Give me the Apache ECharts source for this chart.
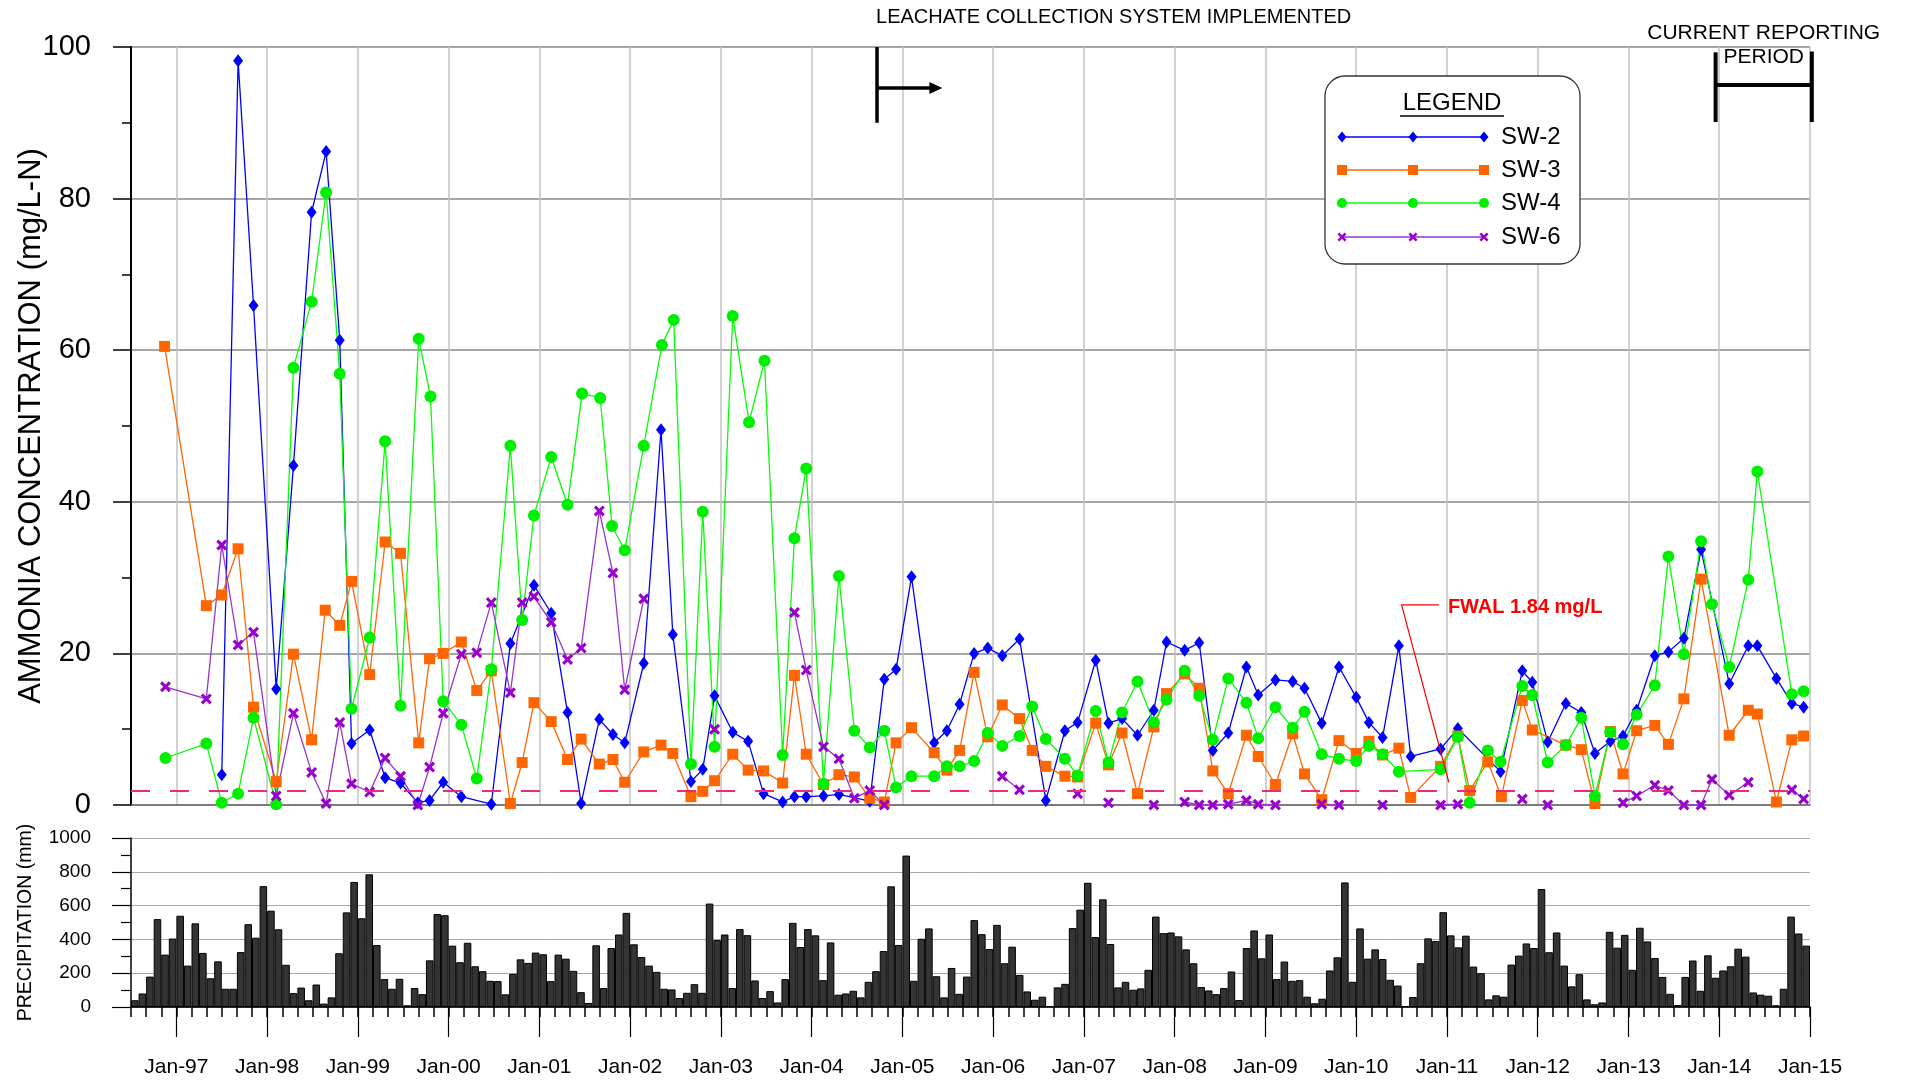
<!DOCTYPE html>
<html>
<head>
<meta charset="utf-8">
<script src="https://cdn.jsdelivr.net/npm/echarts@6/dist/echarts.min.js"></script>
<style>
  html, body { margin: 0; padding: 0; background: #fff; }
  #chart { width: 1905px; height: 1081px; }
</style>
</head>
<body>
<div id="chart"></div>
<script>
const FONT = '"Liberation Sans", Arial, sans-serif';

// ammonia samples: [decimal year, mg/L-N]
const sw2 = [
  [1997.50, 4.0], [1997.68, 98.2], [1997.85, 65.9], [1998.10, 15.3], [1998.29, 44.8], [1998.49, 78.2],
  [1998.65, 86.2], [1998.80, 61.3], [1998.93, 8.1], [1999.13, 9.9], [1999.30, 3.6], [1999.47, 2.9],
  [1999.66, 0.3], [1999.79, 0.6], [1999.94, 3.0], [2000.14, 1.1], [2000.47, 0.1], [2000.68, 21.3],
  [2000.94, 29.0], [2001.13, 25.3], [2001.31, 12.2], [2001.46, 0.2], [2001.66, 11.3], [2001.81, 9.3],
  [2001.94, 8.2], [2002.15, 18.7], [2002.34, 49.5], [2002.47, 22.5], [2002.67, 3.1], [2002.80, 4.7],
  [2002.93, 14.4], [2003.13, 9.6], [2003.30, 8.4], [2003.47, 1.5], [2003.68, 0.4], [2003.81, 1.1],
  [2003.94, 1.1], [2004.13, 1.2], [2004.30, 1.4], [2004.64, 0.5], [2004.80, 16.6], [2004.93, 17.9],
  [2005.10, 30.1], [2005.35, 8.2], [2005.49, 9.8], [2005.63, 13.3], [2005.79, 20.0], [2005.94, 20.7],
  [2006.10, 19.7], [2006.29, 21.9], [2006.58, 0.6], [2006.79, 9.8], [2006.93, 10.9], [2007.13, 19.1],
  [2007.27, 10.8], [2007.42, 11.4], [2007.59, 9.2], [2007.77, 12.5], [2007.91, 21.5], [2008.11, 20.4],
  [2008.27, 21.4], [2008.42, 7.2], [2008.59, 9.5], [2008.79, 18.2], [2008.92, 14.5], [2009.11, 16.5],
  [2009.30, 16.3], [2009.43, 15.4], [2009.62, 10.8], [2009.81, 18.2], [2010.00, 14.2], [2010.14, 10.9],
  [2010.29, 8.9], [2010.47, 21.0], [2010.60, 6.4], [2010.93, 7.4], [2011.12, 10.1], [2011.59, 4.4],
  [2011.83, 17.7], [2011.94, 16.2], [2012.11, 8.3], [2012.31, 13.4], [2012.48, 12.2], [2012.63, 6.8],
  [2012.80, 8.4], [2012.94, 9.1], [2013.09, 12.5], [2013.29, 19.7], [2013.44, 20.2], [2013.61, 22.0],
  [2013.80, 33.7], [2014.11, 16.0], [2014.32, 21.0], [2014.42, 21.0], [2014.63, 16.7], [2014.80, 13.4],
  [2014.93, 12.9]
];
const sw3 = [
  [1996.87, 60.5], [1997.33, 26.3], [1997.50, 27.7], [1997.68, 33.8], [1997.85, 12.9], [1998.10, 3.1],
  [1998.29, 19.9], [1998.49, 8.6], [1998.64, 25.7], [1998.80, 23.7], [1998.93, 29.5], [1999.13, 17.2],
  [1999.30, 34.7], [1999.47, 33.2], [1999.67, 8.2], [1999.79, 19.3], [1999.94, 20.0], [2000.14, 21.5],
  [2000.31, 15.1], [2000.47, 17.7], [2000.68, 0.2], [2000.81, 5.6], [2000.94, 13.5], [2001.13, 11.0],
  [2001.31, 6.0], [2001.46, 8.7], [2001.66, 5.4], [2001.81, 6.0], [2001.94, 3.0], [2002.15, 7.0],
  [2002.34, 7.9], [2002.47, 6.8], [2002.67, 1.1], [2002.80, 1.8], [2002.93, 3.2], [2003.13, 6.7],
  [2003.30, 4.6], [2003.47, 4.5], [2003.68, 2.9], [2003.81, 17.1], [2003.94, 6.7], [2004.13, 2.7],
  [2004.30, 4.0], [2004.47, 3.7], [2004.64, 0.9], [2004.80, 0.4], [2004.93, 8.2], [2005.10, 10.2],
  [2005.35, 6.9], [2005.49, 4.6], [2005.63, 7.2], [2005.79, 17.5], [2005.94, 9.0], [2006.10, 13.2],
  [2006.29, 11.4], [2006.43, 7.2], [2006.58, 5.1], [2006.79, 3.8], [2006.93, 3.7], [2007.13, 10.8],
  [2007.27, 5.3], [2007.42, 9.5], [2007.59, 1.5], [2007.77, 10.3], [2007.91, 14.7], [2008.11, 17.3],
  [2008.27, 15.4], [2008.42, 4.5], [2008.59, 1.5], [2008.79, 9.2], [2008.92, 6.4], [2009.11, 2.7],
  [2009.30, 9.4], [2009.43, 4.1], [2009.62, 0.7], [2009.81, 8.5], [2010.00, 6.8], [2010.14, 8.4],
  [2010.29, 6.6], [2010.47, 7.5], [2010.60, 1.0], [2010.93, 5.1], [2011.12, 9.1], [2011.25, 1.9],
  [2011.45, 5.7], [2011.60, 1.1], [2011.83, 13.8], [2011.94, 9.9], [2012.31, 7.9], [2012.48, 7.3],
  [2012.63, 0.2], [2012.80, 9.7], [2012.94, 4.1], [2013.09, 9.8], [2013.29, 10.5], [2013.44, 8.0],
  [2013.61, 14.0], [2013.80, 29.8], [2014.11, 9.2], [2014.32, 12.5], [2014.42, 12.0], [2014.63, 0.4],
  [2014.80, 8.6], [2014.93, 9.1]
];
const sw4 = [
  [1996.88, 6.2], [1997.33, 8.1], [1997.50, 0.3], [1997.68, 1.5], [1997.85, 11.5], [1998.10, 0.1],
  [1998.29, 57.7], [1998.49, 66.4], [1998.65, 80.8], [1998.80, 56.9], [1998.93, 12.7], [1999.13, 22.1],
  [1999.30, 48.0], [1999.47, 13.1], [1999.67, 61.5], [1999.80, 53.9], [1999.94, 13.7], [2000.14, 10.6],
  [2000.31, 3.5], [2000.47, 17.9], [2000.68, 47.4], [2000.81, 24.4], [2000.94, 38.2], [2001.13, 45.9],
  [2001.31, 39.6], [2001.47, 54.3], [2001.67, 53.7], [2001.80, 36.8], [2001.94, 33.6], [2002.15, 47.4],
  [2002.35, 60.7], [2002.48, 64.0], [2002.67, 5.4], [2002.80, 38.7], [2002.93, 7.7], [2003.13, 64.5],
  [2003.31, 50.5], [2003.48, 58.6], [2003.68, 6.6], [2003.81, 35.2], [2003.94, 44.4], [2004.13, 2.8],
  [2004.30, 30.2], [2004.47, 9.8], [2004.64, 7.6], [2004.80, 9.8], [2004.93, 2.3], [2005.10, 3.8],
  [2005.35, 3.8], [2005.49, 5.1], [2005.63, 5.1], [2005.79, 5.8], [2005.94, 9.5], [2006.10, 7.8],
  [2006.29, 9.1], [2006.43, 13.0], [2006.58, 8.7], [2006.79, 6.1], [2006.93, 3.9], [2007.13, 12.4],
  [2007.27, 5.6], [2007.42, 12.2], [2007.59, 16.3], [2007.77, 10.9], [2007.91, 13.9], [2008.11, 17.7],
  [2008.27, 14.4], [2008.42, 8.6], [2008.59, 16.7], [2008.79, 13.5], [2008.92, 8.8], [2009.11, 12.9],
  [2009.30, 10.2], [2009.43, 12.3], [2009.62, 6.7], [2009.81, 6.1], [2010.00, 5.8], [2010.14, 7.8],
  [2010.29, 6.7], [2010.47, 4.4], [2010.93, 4.7], [2011.12, 9.0], [2011.25, 0.3], [2011.45, 7.2],
  [2011.59, 5.7], [2011.83, 15.7], [2011.94, 14.5], [2012.11, 5.6], [2012.31, 7.9], [2012.48, 11.5],
  [2012.63, 1.2], [2012.80, 9.6], [2012.94, 8.0], [2013.09, 11.9], [2013.29, 15.8], [2013.44, 32.8],
  [2013.61, 19.9], [2013.80, 34.8], [2013.92, 26.5], [2014.11, 18.2], [2014.32, 29.7], [2014.42, 44.0],
  [2014.80, 14.6], [2014.93, 15.0]
];
// null = no line drawn between those samples
const sw6 = [
  [1996.88, 15.6], [1997.33, 14.0], [1997.50, 34.3], [1997.68, 21.1], [1997.85, 22.8], [1998.10, 1.2],
  [1998.29, 12.1], [1998.49, 4.3], [1998.65, 0.2], [1998.80, 10.9], [1998.93, 2.8], [1999.13, 1.7],
  [1999.30, 6.2], [1999.47, 3.8], [1999.66, 0.0], [1999.79, 5.0], [1999.94, 12.1], [2000.14, 19.9],
  [2000.31, 20.1], [2000.47, 26.7], [2000.68, 14.8], [2000.81, 26.7], [2000.94, 27.5], [2001.13, 24.1],
  [2001.31, 19.2], [2001.46, 20.7], [2001.66, 38.8], [2001.81, 30.6], [2001.94, 15.2], [2002.15, 27.2],
  [2002.5, null], [2002.93, 10.0], [2003.4, null], [2003.81, 25.4], [2003.94, 17.8], [2004.13, 7.7], [2004.30, 6.1],
  [2004.47, 0.9], [2004.64, 1.9], [2004.80, 0.0], [2005.5, null], [2006.10, 3.8], [2006.29, 2.0],
  [2006.6, null], [2006.93, 1.5], [2007.1, null], [2007.27, 0.3], [2007.5, null], [2007.77, 0.0],
  [2007.9, null], [2008.11, 0.4], [2008.27, 0.0], [2008.42, 0.0], [2008.59, 0.1], [2008.79, 0.6],
  [2008.92, 0.1], [2009.11, 0.0], [2009.4, null], [2009.62, 0.1], [2009.81, 0.0], [2010.0, null],
  [2010.29, 0.0], [2010.6, null], [2010.93, 0.0], [2011.12, 0.1], [2011.5, null], [2011.83, 0.8],
  [2012.0, null], [2012.11, 0.0], [2012.5, null], [2012.94, 0.3], [2013.09, 1.2], [2013.29, 2.6],
  [2013.44, 1.9], [2013.61, 0.0], [2013.80, 0.0], [2013.92, 3.4], [2014.11, 1.3], [2014.32, 3.0],
  [2014.6, null], [2014.80, 2.0], [2014.93, 0.8]
];

// monthly precipitation (mm); 1996 starts in July
const rain1996 = [40, 80, 180, 520, 310, 405];
const rain1997 = [540, 245, 495, 320, 170, 270, 108, 108, 325, 490, 410, 715];
const rain1998 = [570, 460, 250, 82, 115, 40, 133, 20, 57, 318, 560, 740];
const rain1999 = [525, 785, 367, 165, 108, 167, 10, 112, 76, 276, 550, 543];
const rain2000 = [363, 265, 380, 241, 212, 155, 153, 75, 196, 282, 261, 322];
const rain2001 = [312, 153, 310, 286, 214, 88, 24, 365, 112, 349, 429, 557];
const rain2002 = [371, 296, 245, 208, 108, 104, 53, 84, 135, 84, 612, 396];
const rain2003 = [429, 112, 461, 425, 157, 53, 94, 27, 165, 498, 355, 461];
const rain2004 = [424, 159, 382, 73, 80, 96, 57, 149, 212, 331, 714, 367];
const rain2005 = [896, 155, 404, 465, 182, 57, 231, 78, 180, 514, 431, 343];
const rain2006 = [486, 259, 357, 190, 92, 43, 61, 6, 116, 137, 467, 576];
const rain2007 = [735, 414, 637, 373, 116, 149, 102, 110, 220, 535, 437, 441];
const rain2008 = [418, 341, 259, 118, 98, 76, 112, 210, 41, 349, 453, 288];
const rain2009 = [429, 165, 269, 155, 159, 61, 22, 49, 216, 294, 737, 149];
const rain2010 = [465, 286, 341, 284, 161, 127, 6, 59, 259, 406, 390, 561];
const rain2011 = [424, 353, 422, 239, 200, 45, 69, 61, 251, 304, 376, 349];
const rain2012 = [698, 324, 441, 245, 122, 194, 45, 16, 27, 445, 351, 427];
const rain2013 = [220, 469, 388, 290, 178, 78, 12, 178, 275, 96, 306, 173];
const rain2014 = [216, 241, 345, 298, 86, 73, 67, 10, 108, 535, 435, 363];
const rainYears = [rain1996, rain1997, rain1998, rain1999, rain2000, rain2001, rain2002, rain2003,
  rain2004, rain2005, rain2006, rain2007, rain2008, rain2009, rain2010, rain2011, rain2012, rain2013, rain2014];

const monthNames = ['Jan', 'Feb', 'Mar', 'Apr', 'May', 'Jun', 'Jul', 'Aug', 'Sep', 'Oct', 'Nov', 'Dec'];
const yearTicks = [1997, 1998, 1999, 2000, 2001, 2002, 2003, 2004, 2005, 2006, 2007, 2008, 2009,
  2010, 2011, 2012, 2013, 2014, 2015];
const fwal = 1.84;

const months = [];
const precip = [];
rainYears.forEach((vals, k) => {
  const start = k === 0 ? 6 : 0;
  vals.forEach((v, i) => {
    months.push(monthNames[start + i] + '-' + String(1996 + k).slice(2));
    precip.push(v);
  });
});

// "x" marker outline on a 10x10 box
const XPTS = [[0, 2], [2, 0], [5, 3], [8, 0], [10, 2], [7, 5], [10, 8], [8, 10], [5, 7], [2, 10], [0, 8], [3, 5]];
const XPATH = 'M' + XPTS.map(p => p.join(',')).join(' L') + ' Z';
const wells = [
  { name: 'SW-2', data: sw2, color: '#0000ff', line: '#0000ff', symbol: 'diamond', size: [10, 13], kind: 'diamond' },
  { name: 'SW-3', data: sw3, color: '#ff6600', line: '#ff6600', symbol: 'rect', size: 11, kind: 'rect' },
  { name: 'SW-4', data: sw4, color: '#00ee00', line: '#00ff00', symbol: 'circle', size: 12, kind: 'circle' },
  { name: 'SW-6', data: sw6, color: '#9900cc', line: '#9933cc', symbol: 'path://' + XPATH, size: 11, kind: 'x' }
];

const chart = echarts.init(document.getElementById('chart'));

const lineSeries = wells.map(w => ({
  name: w.name,
  type: 'line',
  xAxisIndex: 0,
  yAxisIndex: 0,
  data: w.data,
  symbol: w.symbol,
  symbolSize: w.size,
  showAllSymbol: true,
  itemStyle: { color: w.color },
  lineStyle: { color: w.line, width: 1.3 },
  emphasis: { disabled: true }
}));
lineSeries[0].markLine = {
  silent: true,
  symbol: 'none',
  label: { show: false },
  lineStyle: { color: '#f0287a', type: [19, 20], width: 2 },
  data: [{ yAxis: fwal }]
};

const option = {
  animation: false,
  backgroundColor: '#fff',
  textStyle: { fontFamily: FONT, color: '#000' },
  grid: [
    { left: 131, top: 47, width: 1679, height: 758, outerBoundsMode: 'none' },
    { left: 131, top: 838, width: 1679, height: 169, outerBoundsMode: 'none' }
  ],
  xAxis: [
    {
      type: 'value', gridIndex: 0, min: 1996.5, max: 2015,
      axisLine: { show: true, onZero: false, lineStyle: { color: '#6e6e6e', width: 1.5 } },
      axisTick: { show: false, customValues: yearTicks },
      axisLabel: { show: false, customValues: yearTicks },
      splitLine: { show: true, lineStyle: { color: '#c2c2c2', width: 1.5 } }
    },
    {
      type: 'category', gridIndex: 1, position: 'bottom', data: months,
      axisLine: { show: true, onZero: false, lineStyle: { color: '#000', width: 1.5 } },
      axisTick: { show: true, interval: (i) => i % 2 === 0, length: 10, lineStyle: { color: '#000', width: 1.5 } },
      axisLabel: { show: false },
      splitLine: { show: false }
    },
    {
      type: 'value', gridIndex: 1, position: 'bottom', min: 1996.5, max: 2015,
      axisLine: { show: false, onZero: false },
      axisTick: { show: true, customValues: yearTicks, length: 30, lineStyle: { color: '#000', width: 1.2 } },
      axisLabel: {
        customValues: yearTicks,
        formatter: v => 'Jan-' + String(Math.round(v)).slice(2),
        fontSize: 21, margin: 50, color: '#000', fontFamily: FONT
      },
      splitLine: { show: false }
    }
  ],
  yAxis: [
    {
      type: 'value', gridIndex: 0, min: 0, max: 100, interval: 20,
      name: 'AMMONIA CONCENTRATION (mg/L-N)', nameLocation: 'middle', nameRotate: 90, nameGap: 84,
      nameMoveOverlap: false,
      nameTextStyle: { fontSize: 31, color: '#000', fontFamily: FONT },
      axisLine: { show: true, lineStyle: { color: '#000', width: 2 } },
      axisTick: { show: true, length: 18, lineStyle: { color: '#000', width: 1.5 } },
      minorTick: { show: true, splitNumber: 2, length: 9, lineStyle: { color: '#000', width: 1.5 } },
      axisLabel: { fontSize: 29, margin: 40, color: '#000', fontFamily: FONT, formatter: v => String(v) },
      splitLine: { show: true, lineStyle: { color: '#8a8a8a', width: 1.5 } }
    },
    {
      type: 'value', gridIndex: 1, min: 0, max: 1000, interval: 200,
      name: 'PRECIPITATION (mm)', nameLocation: 'middle', nameRotate: 90, nameGap: 95,
      nameMoveOverlap: false,
      nameTextStyle: { fontSize: 19.5, color: '#000', fontFamily: FONT },
      axisLine: { show: true, lineStyle: { color: '#000', width: 1.5 } },
      axisTick: { show: true, length: 19, lineStyle: { color: '#000', width: 1.2 } },
      minorTick: { show: true, splitNumber: 2, length: 10, lineStyle: { color: '#000', width: 1.2 } },
      axisLabel: { fontSize: 19, margin: 40, color: '#000', fontFamily: FONT, formatter: v => String(v) },
      splitLine: { show: true, lineStyle: { color: '#a8a8a8', width: 1 } }
    }
  ],
  series: [
    {
      name: 'Precipitation', type: 'bar', xAxisIndex: 1, yAxisIndex: 1, data: precip,
      barCategoryGap: '0%',
      itemStyle: { color: '#343434', borderColor: '#000', borderWidth: 1 },
      emphasis: { disabled: true }
    }
  ].concat(lineSeries)
};

chart.setOption(option);

// annotations placed in data coordinates of the concentration plot
const toPx = (x, y) => chart.convertToPixel({ seriesIndex: 1 }, [x, y]);
const leachateYear = 2004.72;
const periodStart = 2013.96;
const periodEnd = 2015.02;
const g = [];
const txt = (x, y, text, size, extra) => ({
  type: 'text', x: x, y: y, z: 50,
  style: Object.assign({ text: text, fontSize: size, fontFamily: FONT, fill: '#000', align: 'left', verticalAlign: 'middle' }, extra || {})
});
const seg = (a, b, w, c) => ({ type: 'line', z: 50, shape: { x1: a[0], y1: a[1], x2: b[0], y2: b[1] }, style: { stroke: c || '#000', lineWidth: w } });

// leachate collection marker
const l1 = toPx(leachateYear, 100), l2 = toPx(leachateYear, 90);
const la = toPx(leachateYear, 94.6), lt = toPx(2005.44, 94.6);
g.push(seg(l1, l2, 3.5));
g.push(seg(la, [lt[0] - 10, la[1]], 3.5));
g.push({ type: 'polygon', z: 50, shape: { points: [[lt[0] - 13, la[1] - 6], [lt[0], la[1]], [lt[0] - 13, la[1] + 6]] }, style: { fill: '#000' } });
g.push(txt(l1[0] - 1, 17, 'LEACHATE COLLECTION SYSTEM IMPLEMENTED', 20));

// current reporting period bracket
const p1 = toPx(periodStart, 99.3), p2 = toPx(periodStart, 90.1);
const q1 = toPx(periodEnd, 99.4), q2 = toPx(periodEnd, 90.1);
const pm = toPx(periodStart, 95.0);
g.push(seg(p1, p2, 4));
g.push(seg(q1, q2, 4));
g.push(seg(pm, [q1[0], pm[1]], 4));
const pc = (p1[0] + q1[0]) / 2;
g.push(txt(pc, 33, 'CURRENT REPORTING', 21, { align: 'center' }));
g.push(txt(pc, 57, 'PERIOD', 21, { align: 'center' }));

// FWAL label with leader
const f1 = toPx(2010.91, 26.4), f2 = toPx(2010.50, 26.4), f3 = toPx(2011.02, 3.0);
g.push({ type: 'polyline', z: 50, shape: { points: [f1, f2, f3] }, style: { stroke: '#ff0000', lineWidth: 1.2, fill: null } });
const ft = toPx(2011.01, 26.0);
g.push(txt(ft[0], ft[1], 'FWAL ' + fwal + ' mg/L', 20, { fill: '#ff0000', fontWeight: 'bold' }));

// legend box
const box = { x: 1325, y: 76, w: 255, h: 188 };
g.push({ type: 'rect', z: 40, shape: { x: box.x, y: box.y, width: box.w, height: box.h, r: 20 }, style: { fill: '#fff', stroke: '#333', lineWidth: 1.3 } });
const lgCx = 1452;
g.push(txt(lgCx, 103, 'LEGEND', 24, { align: 'center' }));
g.push(seg([lgCx - 52, 116], [lgCx + 52, 116], 1.5));
function mark(kind, cx, cy, color) {
  if (kind === 'diamond') return { type: 'polygon', z: 51, shape: { points: [[cx, cy - 5.5], [cx + 4.5, cy], [cx, cy + 5.5], [cx - 4.5, cy]] }, style: { fill: color } };
  if (kind === 'rect') return { type: 'rect', z: 51, shape: { x: cx - 5, y: cy - 5, width: 10, height: 10 }, style: { fill: color } };
  if (kind === 'circle') return { type: 'circle', z: 51, shape: { cx: cx, cy: cy, r: 5 }, style: { fill: color } };
  const s = 0.9;
  return { type: 'polygon', z: 51, shape: { points: XPTS.map(p => [cx + (p[0] - 5) * s, cy + (p[1] - 5) * s]) }, style: { fill: color } };
}
const rowY = [137, 170, 203, 237];
wells.forEach((w, i) => {
  const y = rowY[i];
  g.push(seg([1342, y], [1484, y], 1.6, w.line));
  [1342, 1413, 1484].forEach(x => g.push(mark(w.kind, x, y, w.color)));
  g.push(txt(1501, y, w.name, 24));
});

chart.setOption({ graphic: g });
</script>
</body>
</html>
